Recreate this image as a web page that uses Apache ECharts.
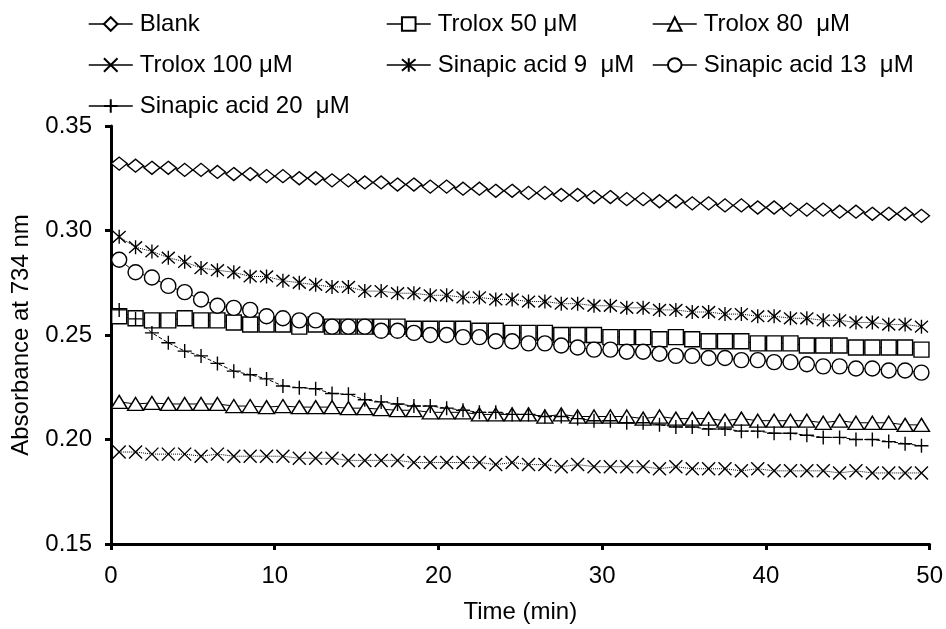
<!DOCTYPE html>
<html>
<head>
<meta charset="utf-8">
<script src="https://cdn.jsdelivr.net/npm/echarts@6/dist/echarts.min.js"></script>
<style>
  html, body { margin: 0; padding: 0; background: #fff; }
  #chart { width: 946px; height: 629px; }
</style>
</head>
<body>
<div id="chart"></div>
<script>
// sampling times (min)
const times = [];
for (let i = 0; i < 50; i++) times.push(0.5 + i);

const blank = [
    0.332, 0.331, 0.330, 0.330, 0.329, 0.329, 0.328, 0.327, 0.327, 0.326,
    0.326, 0.325, 0.325, 0.324, 0.324, 0.323, 0.323, 0.322, 0.322, 0.321,
    0.321, 0.320, 0.320, 0.319, 0.319, 0.318, 0.318, 0.317, 0.317, 0.316,
    0.316, 0.315, 0.315, 0.314, 0.314, 0.313, 0.313, 0.312, 0.312, 0.311,
    0.311, 0.310, 0.310, 0.310, 0.309, 0.309, 0.308, 0.308, 0.308, 0.307
];
const trolox50 = [
    0.259, 0.258, 0.257, 0.257, 0.258, 0.257, 0.257, 0.256, 0.255, 0.255,
    0.255, 0.254, 0.255, 0.254, 0.254, 0.254, 0.254, 0.254, 0.253, 0.253,
    0.253, 0.253, 0.252, 0.252, 0.251, 0.251, 0.251, 0.250, 0.250, 0.250,
    0.249, 0.249, 0.249, 0.248, 0.249, 0.248, 0.247, 0.247, 0.247, 0.246,
    0.246, 0.246, 0.245, 0.245, 0.245, 0.244, 0.244, 0.244, 0.244, 0.243
];
const trolox80 = [
    0.218, 0.217, 0.2175, 0.217, 0.217, 0.217, 0.217, 0.216, 0.216, 0.2155,
    0.216, 0.2155, 0.2155, 0.2155, 0.215, 0.215, 0.2145, 0.214, 0.214, 0.213,
    0.213, 0.213, 0.212, 0.212, 0.212, 0.212, 0.211, 0.212, 0.211, 0.211,
    0.211, 0.211, 0.210, 0.211, 0.210, 0.210, 0.210, 0.209, 0.210, 0.209,
    0.209, 0.209, 0.209, 0.208, 0.209, 0.208, 0.208, 0.208, 0.207, 0.207
];
const trolox100 = [
    0.194, 0.194, 0.193, 0.193, 0.193, 0.192, 0.193, 0.192, 0.192, 0.192,
    0.192, 0.191, 0.191, 0.191, 0.190, 0.190, 0.190, 0.190, 0.189, 0.189,
    0.189, 0.189, 0.189, 0.188, 0.189, 0.188, 0.188, 0.187, 0.188, 0.187,
    0.187, 0.187, 0.187, 0.186, 0.187, 0.186, 0.186, 0.186, 0.185, 0.186,
    0.185, 0.185, 0.185, 0.185, 0.184, 0.185, 0.184, 0.184, 0.184, 0.184
];
const sinapic9 = [
    0.297, 0.292, 0.290, 0.287, 0.285, 0.282, 0.281, 0.280, 0.278, 0.278,
    0.276, 0.275, 0.274, 0.273, 0.273, 0.271, 0.271, 0.270, 0.270, 0.269,
    0.269, 0.268, 0.268, 0.267, 0.267, 0.266, 0.266, 0.265, 0.265, 0.264,
    0.264, 0.263, 0.263, 0.262, 0.262, 0.261, 0.261, 0.260, 0.260, 0.259,
    0.259, 0.258, 0.258, 0.257, 0.257, 0.256, 0.256, 0.255, 0.255, 0.254
];
const sinapic13 = [
    0.286, 0.280, 0.2775, 0.2735, 0.2705, 0.267, 0.264, 0.263, 0.262, 0.259,
    0.258, 0.257, 0.257, 0.254, 0.254, 0.254, 0.252, 0.252, 0.251, 0.250,
    0.250, 0.249, 0.249, 0.247, 0.247, 0.246, 0.246, 0.245, 0.244, 0.243,
    0.243, 0.242, 0.242, 0.241, 0.240, 0.240, 0.239, 0.239, 0.238, 0.238,
    0.237, 0.237, 0.236, 0.235, 0.235, 0.234, 0.234, 0.233, 0.233, 0.232
];
const sinapic20 = [
    0.262, 0.2577, 0.251, 0.2463, 0.2423, 0.240, 0.2364, 0.2327, 0.231, 0.229,
    0.2256, 0.2248, 0.2243, 0.222, 0.2216, 0.219, 0.218, 0.217, 0.216, 0.216,
    0.215, 0.214, 0.213, 0.213, 0.212, 0.212, 0.211, 0.211, 0.210, 0.209,
    0.209, 0.208, 0.208, 0.207, 0.206, 0.206, 0.205, 0.205, 0.204, 0.204,
    0.203, 0.203, 0.202, 0.201, 0.201, 0.200, 0.200, 0.199, 0.198, 0.197
];

const xTicks = [0, 10, 20, 30, 40, 50];
const yTicks = [0.15, 0.20, 0.25, 0.30, 0.35];

const FONT = '"Liberation Sans", Arial, sans-serif';
const FS = 24;
const SYM_X = 'path://M0,0L10,10M10,0L0,10';
const SYM_AST = 'path://M0,0L10,10M10,0L0,10M5,-1L5,11';
const SYM_PLUS = 'path://M5,0L5,10M0,5L10,5';

const defs = [
    { name: 'Blank', data: blank, symbol: 'diamond', size: [16, 13], line: 'solid', pos: [88, 24] },
    { name: 'Trolox 50 μM', data: trolox50, symbol: 'rect', size: [15, 15], line: 'solid', pos: [386, 24] },
    { name: 'Trolox 80  μM', data: trolox80, symbol: 'triangle', size: [16, 13], line: 'solid', pos: [652, 24] },
    { name: 'Trolox 100 μM', data: trolox100, symbol: SYM_X, size: [13, 13], line: 'dotted', pos: [88, 65] },
    { name: 'Sinapic acid 9  μM', data: sinapic9, symbol: SYM_AST, size: [13, 14], line: 'dotted', pos: [386, 65] },
    { name: 'Sinapic acid 13  μM', data: sinapic13, symbol: 'circle', size: 15, line: 'solid', pos: [652, 65] },
    { name: 'Sinapic acid 20  μM', data: sinapic20, symbol: SYM_PLUS, size: [14, 14], line: 'dashed', pos: [88, 106] }
];

const chart = echarts.init(document.getElementById('chart'), null, { renderer: 'canvas' });

const series = defs.map(d => ({
    name: d.name,
    type: 'line',
    data: times.map((t, i) => [t, d.data[i]]),
    symbol: d.symbol,
    symbolSize: d.size,
    showAllSymbol: true,
    lineStyle: { color: '#000', width: 1, type: d.line },
    itemStyle: { color: '#fff', borderColor: '#000', borderWidth: 1.4 },
    emphasis: { disabled: true },
    animation: false
}));

// legend icons are drawn with plain solid lines, as in the original
const legends = defs.map(d => ({
    data: [d.name],
    left: d.pos[0],
    top: d.pos[1] - 12,
    itemWidth: 44,
    itemHeight: 17,
    itemGap: 0,
    padding: 0,
    selectedMode: false,
    lineStyle: { type: 'solid', width: 1.5, color: '#000' },
    textStyle: { fontFamily: FONT, fontSize: FS, color: '#000', padding: [0, 0, 0, 2] }
}));

chart.setOption({
    backgroundColor: '#fff',
    animation: false,
    legend: legends,
    grid: { left: 111, right: 15, top: 126, bottom: 84 },
    xAxis: {
        type: 'value',
        min: xTicks[0],
        max: xTicks[xTicks.length - 1],
        interval: 10,
        name: 'Time (min)',
        nameLocation: 'middle',
        nameGap: 56,
        nameTextStyle: { fontFamily: FONT, fontSize: FS, color: '#000' },
        axisLine: { lineStyle: { color: '#000', width: 3 } },
        axisTick: { show: true, length: 6, lineStyle: { color: '#000', width: 3 } },
        axisLabel: { fontFamily: FONT, fontSize: FS, color: '#000', margin: 20 },
        splitLine: { show: false }
    },
    yAxis: {
        type: 'value',
        min: yTicks[0],
        max: yTicks[yTicks.length - 1],
        interval: 0.05,
        name: 'Absorbance at 734 nm',
        nameLocation: 'middle',
        nameGap: 78,
        nameTextStyle: { fontFamily: FONT, fontSize: FS, color: '#000' },
        axisLine: { show: true, lineStyle: { color: '#000', width: 3 } },
        axisTick: { show: true, length: 6, lineStyle: { color: '#000', width: 3 } },
        axisLabel: {
            fontFamily: FONT, fontSize: FS, color: '#000', margin: 19,
            formatter: v => v.toFixed(2)
        },
        splitLine: { show: false }
    },
    series: series
});

window.addEventListener('resize', () => chart.resize());
</script>
</body>
</html>
